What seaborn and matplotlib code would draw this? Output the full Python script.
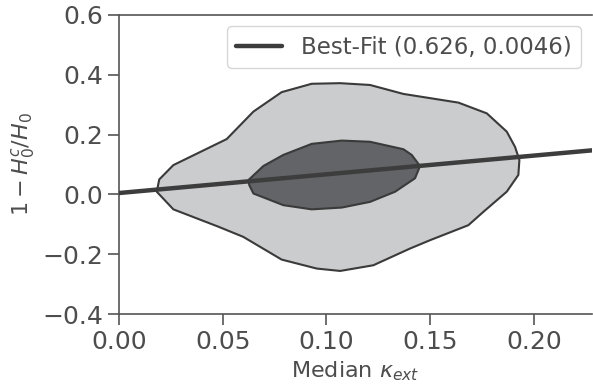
import numpy as np
import pandas as pd
import matplotlib
matplotlib.use("Agg")
import matplotlib.pyplot as plt
import seaborn as sns

# outer (light) confidence contour
outer_x = [0.0182, 0.0194, 0.0262, 0.0519, 0.0648, 0.0784, 0.0929, 0.1066, 0.1210,
           0.1371, 0.1636, 0.1773, 0.1869, 0.1909, 0.1930, 0.1925, 0.1869, 0.1757,
           0.1684, 0.1500, 0.1403, 0.1226, 0.1066, 0.0953, 0.0784, 0.0599, 0.0479,
           0.0262]
outer_y = [0.009, 0.050, 0.098, 0.185, 0.277, 0.342, 0.370, 0.372, 0.366,
           0.336, 0.307, 0.271, 0.210, 0.159, 0.115, 0.065, 0.009, -0.058,
           -0.103, -0.153, -0.181, -0.237, -0.256, -0.248, -0.218, -0.142, -0.108,
           -0.050]

# inner (dark) confidence contour
inner_x = [0.0624, 0.0696, 0.0792, 0.0929, 0.1074, 0.1210, 0.1371, 0.1411, 0.1451,
           0.1427, 0.1331, 0.1210, 0.1074, 0.0929, 0.0792, 0.0648, 0.0628]
inner_y = [0.048, 0.095, 0.132, 0.169, 0.180, 0.176, 0.151, 0.132, 0.095,
           0.054, 0.009, -0.025, -0.044, -0.050, -0.036, 0.003, 0.031]

# best-fit line: slope, intercept
fit_slope = 0.626
fit_intercept = 0.0046

text_col = "#4d4d4d"
sns.set_theme(style="ticks", rc={
    "axes.edgecolor": "#555555",
    "axes.labelcolor": text_col,
    "xtick.color": "#555555",
    "ytick.color": "#555555",
    "xtick.labelcolor": text_col,
    "ytick.labelcolor": text_col,
    "text.color": text_col,
    "xtick.major.size": 8,
    "ytick.major.size": 8,
    "axes.unicode_minus": True,
})

fig = plt.figure(figsize=(5.93, 3.86), dpi=100)
ax = fig.add_axes([119 / 593, 1 - 314 / 386, 473 / 593, 299 / 386])

edge = "#3a3a3a"
ax.fill(outer_x, outer_y, facecolor="#cbcccd", edgecolor=edge, linewidth=1.5,
        joinstyle="round", zorder=1)
ax.fill(inner_x, inner_y, facecolor="#636467", edgecolor=edge, linewidth=1.5,
        joinstyle="round", zorder=2)

xlim = (0.0, 0.228)
fit = pd.DataFrame({"x": np.array(xlim)})
fit["y"] = fit_slope * fit["x"] + fit_intercept
sns.lineplot(data=fit, x="x", y="y", ax=ax, color="#3d3d3d", linewidth=3.2,
             label=f"Best-Fit ({fit_slope}, {fit_intercept})", zorder=3)

ax.set_xlim(*xlim)
ax.set_ylim(-0.4, 0.6)
ax.set_xticks([0.0, 0.05, 0.10, 0.15, 0.20])
ax.set_yticks([-0.4, -0.2, 0.0, 0.2, 0.4, 0.6])
ax.xaxis.set_major_formatter(matplotlib.ticker.FuncFormatter(lambda v, p: f"{v:.2f}".replace("-", "\u2212")))
ax.yaxis.set_major_formatter(matplotlib.ticker.FuncFormatter(lambda v, p: f"{v:.1f}".replace("-", "\u2212")))
ax.tick_params(labelsize=18, width=1.2)
ax.spines["right"].set_visible(False)
for s in ["left", "top", "bottom"]:
    ax.spines[s].set_linewidth(1.2)

ax.set_xlabel(r"Median $\kappa_{ext}$", fontsize=16)
ax.set_ylabel(r"$1 - H_0^c/H_0$", fontsize=16)

ax.legend(loc="upper right", fontsize=16.5, frameon=True, handlelength=2.0)

fig.savefig("out.png", dpi=100)
